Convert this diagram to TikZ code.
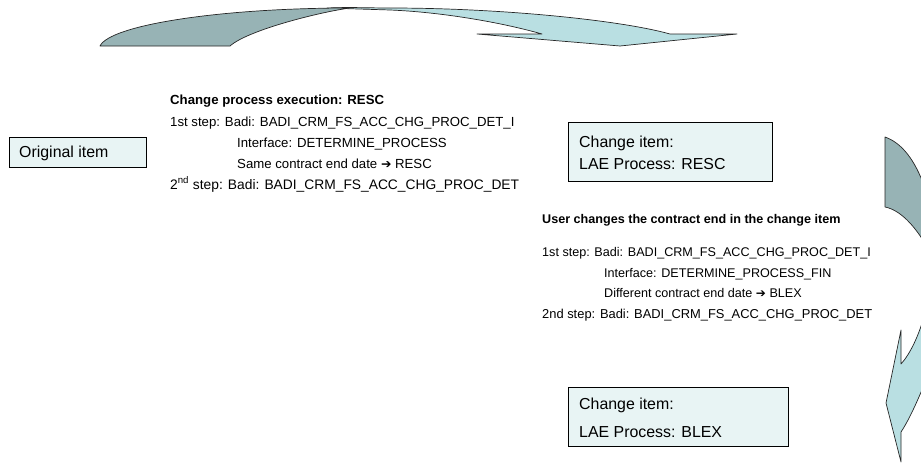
\documentclass[tikz,border=0pt]{standalone}
\usepackage{fontspec}
\setmainfont{Liberation Sans}
\newfontfamily\symfont{DejaVu Sans}
\definecolor{boxfill}{HTML}{E8F4F4}
\definecolor{arrdark}{HTML}{97B3B5}
\definecolor{arrlight}{HTML}{B9DFE2}
\begin{document}
\begin{tikzpicture}[x=1pt,y=-1pt,
  itembox/.style={draw=black, line width=0.8pt, fill=boxfill, inner sep=0pt, anchor=north west},
  arrowshape/.style={draw=black!85, line width=0.7pt, line join=round},
  lefttxt/.style={anchor=base west, inner sep=0pt, font=\fontsize{13.2}{15}\selectfont},
  righttxt/.style={anchor=base west, inner sep=0pt, font=\fontsize{12.6}{15}\selectfont},
  boxtxt/.style={anchor=base west, inner sep=0pt, font=\fontsize{15.9}{18}\selectfont}]
\path[use as bounding box] (0,0) rectangle (921,463);
\begin{scope}
\clip (0,0) rectangle (921,463);
% top curved arrow
\path[arrowshape, fill=arrlight] (327,8) .. controls (350,7) and (370,8) .. (390,8)
  .. controls (500,8) and (620,20) .. (670,34) -- (737,34) -- (620,46) -- (477,34) -- (542,34)
  .. controls (500,22) and (440,12) .. (390,10) -- cycle;
\path[arrowshape, fill=arrdark] (100,46) .. controls (110,25) and (220,8) .. (350,8)
  .. controls (320,12) and (248,30) .. (230,46) -- cycle;
% right curved arrow
\path[arrowshape, fill=arrdark] (885,137) .. controls (902,143) and (915,160) .. (925,188)
  -- (960,188) -- (960,250) -- (926,245) .. controls (914,225) and (900,210) .. (885,207) -- cycle;
\path[arrowshape, fill=arrlight] (901,330) -- (901,364) .. controls (910,354) and (919,336) .. (926,310)
  -- (960,310) -- (960,400) -- (926,380) .. controls (918,400) and (909,420) .. (901,432)
  -- (901,462) -- (886,403) -- cycle;
\end{scope}
% boxes
\node[itembox, minimum width=137pt, minimum height=30pt] (orig) at (9,137) {};
\node[boxtxt] (origt) at (19,157.7) {Original item};
\node[itembox, minimum width=204pt, minimum height=59pt] (chg1) at (568,122) {};
\node[boxtxt] (chg1a) at (579,147) {Change item:};
\node[boxtxt] (chg1b) at (579,169.5) {LAE Process: RESC};
\node[itembox, minimum width=220pt, minimum height=59pt] (chg2) at (568,387) {};
\node[boxtxt] (chg2a) at (579,409) {Change item:};
\node[boxtxt] (chg2b) at (579,437) {LAE Process: BLEX};
% left text
\node[lefttxt, font=\fontsize{13.2}{15}\selectfont\bfseries] (l1) at (170,104) {Change process execution: RESC};
\node[lefttxt] (l2) at (170,126) {1st step: Badi: BADI\_CRM\_FS\_ACC\_CHG\_PROC\_DET\_I};
\node[lefttxt] (l3) at (237,147) {Interface: DETERMINE\_PROCESS};
\node[lefttxt] (l4) at (237,168) {Same contract end date {\symfont\fontsize{12.5}{13}\selectfont ➔} RESC};
\node[lefttxt, font=\fontsize{13.8}{15}\selectfont] (l5) at (170,189) {2\textsuperscript{nd} step: Badi: BADI\_CRM\_FS\_ACC\_CHG\_PROC\_DET};
% right text
\node[righttxt, font=\fontsize{12.6}{15}\selectfont\bfseries] (r1) at (542,223.5) {User changes the contract end in the change item};
\node[righttxt] (r2) at (542,256.5) {1st step: Badi: BADI\_CRM\_FS\_ACC\_CHG\_PROC\_DET\_I};
\node[righttxt] (r3) at (604,277.5) {Interface: DETERMINE\_PROCESS\_FIN};
\node[righttxt] (r4) at (604,297.5) {Different contract end date {\symfont\fontsize{12}{13}\selectfont ➔} BLEX};
\node[righttxt, font=\fontsize{12.9}{15}\selectfont] (r5) at (542,318.5) {2nd step: Badi: BADI\_CRM\_FS\_ACC\_CHG\_PROC\_DET};
\end{tikzpicture}
\end{document}
